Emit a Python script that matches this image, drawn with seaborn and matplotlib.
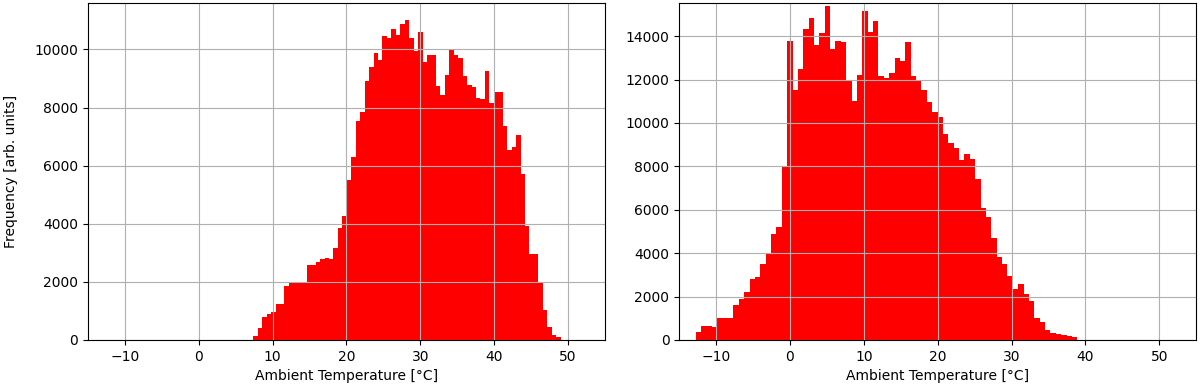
import numpy as np
import pandas as pd
import seaborn as sns
import matplotlib
matplotlib.use("Agg")
import matplotlib.pyplot as plt

# ----------------------------------------------------------------
# Histogram counts (one value per bin)
# ----------------------------------------------------------------
# left panel: 69 bins spanning roughly 7.4 .. 49.0 degC
left_range = (7.38, 49.0)
left_counts = [
    150, 400, 805, 885, 977, 1240, 1240, 1873, 1988, 1953,
    2010, 2010, 2585, 2585, 2677, 2792, 2838, 2792, 3160, 3850,
    4274, 5504, 6310, 7526, 7848, 8928, 9399, 9882, 9652, 10456,
    10400, 10709, 10514, 10882, 11031, 10400, 9939, 10606, 9571, 9824,
    9824, 8756, 8446, 9135, 9997, 9824, 9709, 9077, 8790, 8710,
    8330, 8296, 9250, 8158, 8537, 8537, 7377, 6527, 6630, 7067,
    5722, 3907, 2953, 2953, 1953, 1034, 437, 172, 115,
]

# right panel: 71 bins spanning roughly -12.75 .. 38.9 degC
right_range = (-12.75, 38.9)
right_counts = [
    385, 661, 661, 584, 1000, 1000, 1000, 1615, 1876, 2230,
    2799, 2891, 3507, 3968, 4875, 5229, 7951, 13796, 11535, 12504,
    14350, 14842, 13611, 14150, 15410, 13427, 13796, 13719, 11950, 11028,
    12196, 15149, 14196, 14719, 12150, 12073, 12304, 12996, 12873, 13719,
    12150, 11920, 11535, 10951, 10490, 10274, 9505, 9074, 8844, 8275,
    8583, 8352, 7429, 6075, 5660, 4722, 3845, 3507, 2953, 2368,
    2584, 2122, 1799, 1000, 846, 461, 338, 277, 231, 200,
    123,
]

x_label = "Ambient Temperature [°C]"
y_label = "Frequency [arb. units]"


def binned(counts, rng):
    edges = np.linspace(rng[0], rng[1], len(counts) + 1)
    centers = 0.5 * (edges[:-1] + edges[1:])
    return pd.DataFrame({"temp": centers, "n": counts}), edges.tolist()


fig = plt.figure(figsize=(12, 3.92), dpi=100)
ax1 = fig.add_axes([0.0733, 0.1327, 0.4308, 0.8597])
ax2 = fig.add_axes([0.566, 0.1327, 0.4308, 0.8597])

for ax, counts, rng, top in [(ax1, left_counts, left_range, 11600),
                             (ax2, right_counts, right_range, 15530)]:
    df, edges = binned(counts, rng)
    sns.histplot(data=df, x="temp", weights="n", bins=edges, ax=ax,
                 color="red", alpha=1, linewidth=0, edgecolor="red")
    ax.set_xlim(-15, 55)
    ax.set_ylim(0, top)
    ax.grid(True, color="#b0b0b0", linewidth=0.8)
    ax.set_axisbelow("line")
    ax.set_xlabel(x_label)
    ax.set_ylabel("")

ax1.set_ylabel(y_label, labelpad=12)

fig.savefig("out.png", dpi=100)
